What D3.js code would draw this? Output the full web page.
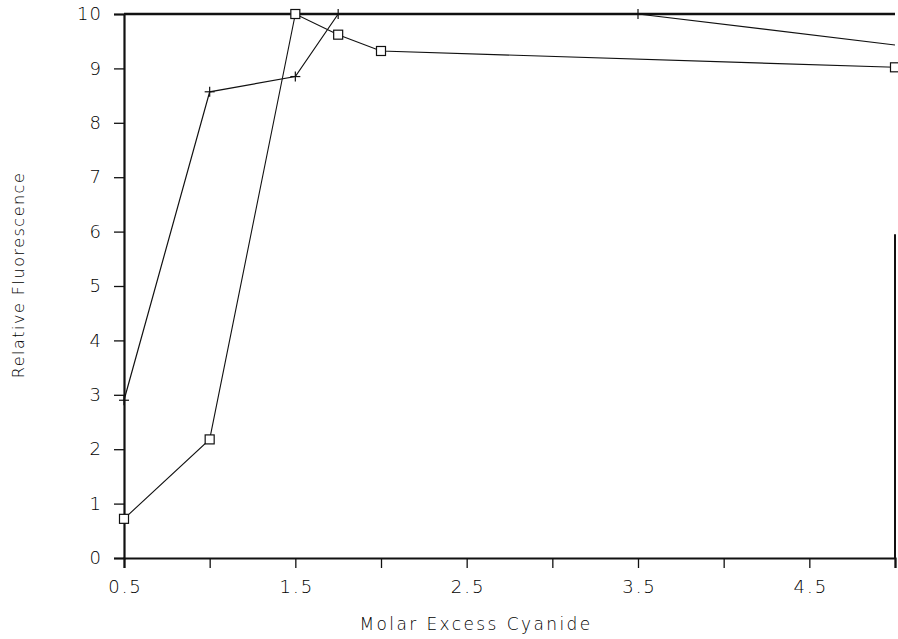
<!DOCTYPE html>
<html>
<head>
<meta charset="utf-8">
<script src="https://cdn.jsdelivr.net/npm/d3@7"></script>
<style>
  html, body { margin: 0; padding: 0; background: #fff; }
  svg { display: block; }
  text { font-family: "DejaVu Sans", "Liberation Sans", sans-serif; fill: #000; font-weight: 300; }
</style>
</head>
<body>
<svg id="chart" width="898" height="639"></svg>
<script>
// ---- data ----
const plusX = [0.5, 1.0, 1.5, 1.75, 3.5, 5.0];
const plusY = [2.9, 8.57, 8.85, 10.0, 10.0, 9.43];
const plusMarked = [true, true, true, true, true, false];
const squareX = [0.5, 1.0, 1.5, 1.75, 2.0, 5.0];
const squareY = [0.72, 2.18, 10.0, 9.62, 9.32, 9.02];
const xTicks = [0.5, 1.0, 1.5, 2.0, 2.5, 3.0, 3.5, 4.0, 4.5, 5.0];
const xTickLabels = ["0.5", "", "1.5", "", "2.5", "", "3.5", "", "4.5", ""];
const yTicks = [0, 1, 2, 3, 4, 5, 6, 7, 8, 9, 10];
const xTitle = "Molar Excess Cyanide";
const yTitle = "Relative Fluorescence";

// ---- drawing ----
const svg = d3.select("#chart");
const x = d3.scaleLinear().domain([0.5, 5.0]).range([124, 895]);
const y = d3.scaleLinear().domain([0, 10]).range([558, 14]);
const ink = "#111";

// x axis
const xAxis = d3.axisBottom(x).tickValues(xTicks)
  .tickFormat((d, i) => xTickLabels[i]).tickSize(10).tickPadding(12);
const gx = svg.append("g").attr("transform", `translate(0,${y(0)})`).call(xAxis);
gx.select(".domain").attr("stroke", ink).attr("stroke-width", 2.2);
gx.selectAll(".tick line").attr("stroke", ink).attr("stroke-width", 1.3);
gx.selectAll(".tick text").attr("font-size", 18).attr("fill", "#000")
  .attr("font-family", "DejaVu Sans, sans-serif").attr("font-weight", 300)
  .attr("letter-spacing", 2).attr("dx", 1);

// y axis
const yAxis = d3.axisLeft(y).tickValues(yTicks).tickFormat(d3.format("d"))
  .tickSize(10).tickPadding(12);
const gy = svg.append("g").attr("transform", `translate(${x(0.5)},0)`).call(yAxis);
gy.select(".domain").attr("stroke", ink).attr("stroke-width", 2.2);
gy.selectAll(".tick line").attr("stroke", ink).attr("stroke-width", 1.3);
gy.selectAll(".tick text").attr("font-size", 18).attr("fill", "#000")
  .attr("font-family", "DejaVu Sans, sans-serif").attr("font-weight", 300)
  .attr("letter-spacing", 1);

// top border
svg.append("line")
  .attr("x1", x(0.5)).attr("x2", x(5.0))
  .attr("y1", y(10)).attr("y2", y(10))
  .attr("stroke", ink).attr("stroke-width", 2.5);
// right border (partially visible in the scan)
svg.append("line")
  .attr("x1", x(5.0)).attr("x2", x(5.0))
  .attr("y1", y(0)).attr("y2", y(5.95))
  .attr("stroke", ink).attr("stroke-width", 2);

// lines
const line = d3.line().x(d => x(d[0])).y(d => y(d[1]));
const plusData = plusX.map((v, i) => [v, plusY[i]]);
const squareData = squareX.map((v, i) => [v, squareY[i]]);

svg.append("path").datum(plusData).attr("d", line)
  .attr("fill", "none").attr("stroke", ink).attr("stroke-width", 1.2);
svg.append("path").datum(squareData).attr("d", line)
  .attr("fill", "none").attr("stroke", ink).attr("stroke-width", 1.1);

// markers: plus
const ps = 5;
const plusG = svg.append("g");
plusData.forEach((d, i) => {
  if (!plusMarked[i]) return;
  const cx = x(d[0]), cy = y(d[1]);
  plusG.append("line").attr("x1", cx - ps).attr("x2", cx + ps).attr("y1", cy).attr("y2", cy)
    .attr("stroke", ink).attr("stroke-width", 1.2);
  plusG.append("line").attr("x1", cx).attr("x2", cx).attr("y1", cy - ps).attr("y2", cy + ps)
    .attr("stroke", ink).attr("stroke-width", 1.2);
});

// markers: squares
const sq = 9;
svg.append("g").selectAll("rect").data(squareData).join("rect")
  .attr("x", d => x(d[0]) - sq / 2).attr("y", d => y(d[1]) - sq / 2)
  .attr("width", sq).attr("height", sq)
  .attr("fill", "#fff").attr("stroke", ink).attr("stroke-width", 1.2);

// titles
svg.append("text").attr("x", 476).attr("y", 630).attr("text-anchor", "middle")
  .attr("font-size", 17).attr("letter-spacing", 2.4).text(xTitle);
svg.append("text").attr("transform", "translate(24,275) rotate(-90)")
  .attr("text-anchor", "middle").attr("font-size", 16).attr("letter-spacing", 1.5).text(yTitle);
</script>
</body>
</html>
